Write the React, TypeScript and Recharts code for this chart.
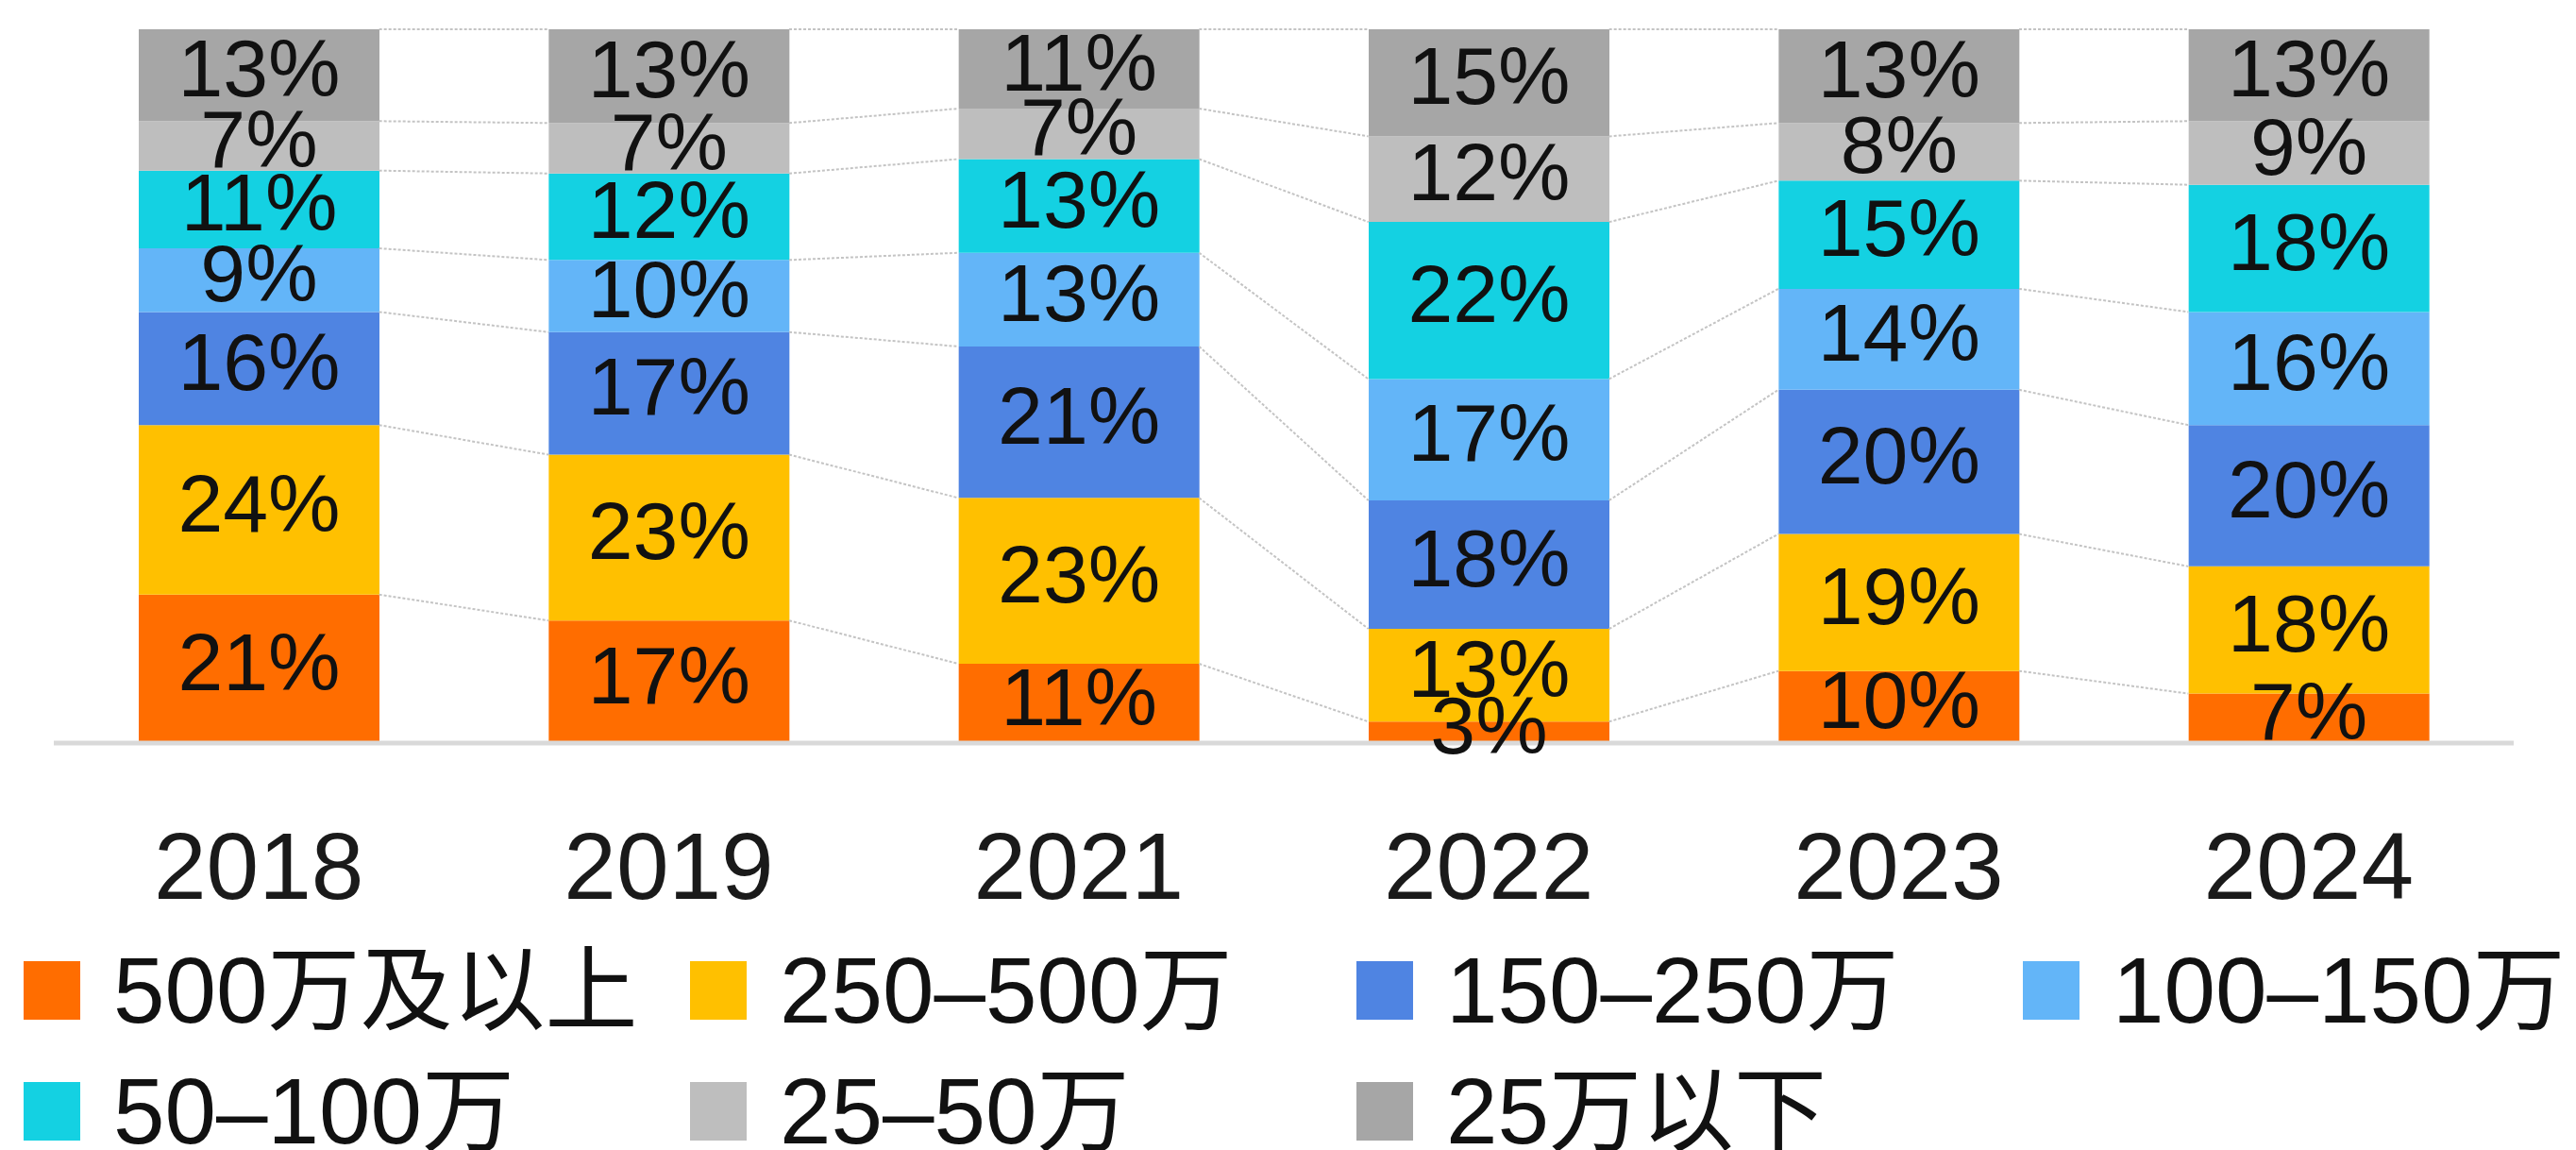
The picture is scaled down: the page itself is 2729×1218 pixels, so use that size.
import { Bar, BarChart, LabelList, Legend, ReferenceLine, XAxis, YAxis } from "recharts";

// share of sales by price band, per year (labels as printed, rows normalised by the chart)
const years = ["2018", "2019", "2021", "2022", "2023", "2024"];
const above500 = [21, 17, 11, 3, 10, 7];
const from250to500 = [24, 23, 23, 13, 19, 18];
const from150to250 = [16, 17, 21, 18, 20, 20];
const from100to150 = [9, 10, 13, 17, 14, 16];
const from50to100 = [11, 12, 13, 22, 15, 18];
const from25to50 = [7, 7, 7, 12, 8, 9];
const below25 = [13, 13, 11, 15, 13, 13];

const seriesNames = ["500万及以上", "250–500万", "150–250万", "100–150万", "50–100万", "25–50万", "25万以下"];
const seriesColors = ["#FF6D00", "#FFC000", "#4F84E2", "#63B5F8", "#14D1E2", "#BEBEBE", "#A6A6A6"];
const seriesValues = [above500, from250to500, from150to250, from100to150, from50to100, from25to50, below25];

const data = years.map((year, i) => {
  const row: Record<string, number | string> = { idx: i, year };
  seriesValues.forEach((vals, k) => {
    row["s" + k] = vals[i];
  });
  return row;
});

const W = 2729;
const H = 1218;
const margin = { top: 31, right: 66, bottom: 281, left: 57 };
const BAR_SIZE = 255;
const FONT = "'Liberation Sans', 'Noto Sans CJK SC', sans-serif";

// half a bar, in index units, so the connectors start at the bar edges
const bandPx = (W - margin.left - margin.right) / years.length;
const halfBar = BAR_SIZE / 2 / bandPx;

// cumulative share at the top of each segment
const cumShares = years.map((_, i) => {
  const total = seriesValues.reduce((s, vals) => s + vals[i], 0);
  let acc = 0;
  return seriesValues.map((vals) => {
    acc += vals[i];
    return acc / total;
  });
});

const connectors: Array<{ x1: number; y1: number; x2: number; y2: number }> = [];
for (let i = 0; i < years.length - 1; i++) {
  for (let k = 0; k < seriesValues.length; k++) {
    connectors.push({ x1: i + halfBar, y1: cumShares[i][k], x2: i + 1 - halfBar, y2: cumShares[i + 1][k] });
  }
}

function LegendGrid(props: any) {
  const payload = [...(props.payload || [])].sort(
    (a: any, b: any) => seriesNames.indexOf(a.value) - seriesNames.indexOf(b.value)
  );
  return (
    <div
      style={{
        display: "grid",
        gridTemplateColumns: "706px 706px 706px 580px",
        fontFamily: FONT,
        textAlign: "left",
      }}
    >
      {payload.map((entry: any) => (
        <div key={entry.value} style={{ height: 128, display: "flex", alignItems: "center" }}>
          <span style={{ width: 60, height: 62, background: entry.color, marginRight: 35, flex: "none" }} />
          <span style={{ fontSize: 98, color: "#111", whiteSpace: "nowrap", lineHeight: 1 }}>{entry.value}</span>
        </div>
      ))}
    </div>
  );
}

export default function App() {
  return (
    <div style={{ width: W, height: H, background: "#fff" }}>
      <style>{"body{margin:0}"}</style>
      <BarChart width={W} height={H} data={data} margin={margin} stackOffset="expand">
        <XAxis
          dataKey="year"
          height={150}
          tickSize={0}
          tickMargin={94}
          tickLine={false}
          axisLine={{ stroke: "#d9d9d9", strokeWidth: 5 }}
          tick={{ fontSize: 100, fill: "#1a1a1a", fontFamily: FONT }}
        />
        <XAxis
          xAxisId="pos"
          type="number"
          dataKey="idx"
          domain={[-0.5, years.length - 0.5]}
          allowDataOverflow
          hide
        />
        <YAxis hide />
        {connectors.map((c, n) => (
          <ReferenceLine
            key={n}
            xAxisId="pos"
            segment={[
              { x: c.x1, y: c.y1 },
              { x: c.x2, y: c.y2 },
            ]}
            stroke="#c4c4c4"
            strokeWidth={2}
            strokeDasharray="3 2"
          />
        ))}
        {seriesNames.map((name, k) => (
          <Bar
            key={name}
            dataKey={"s" + k}
            name={name}
            stackId="a"
            fill={seriesColors[k]}
            barSize={BAR_SIZE}
            isAnimationActive={false}
          >
            <LabelList
              dataKey={"s" + k}
              position="center"
              formatter={(v: any) => `${v}%`}
              dy={-8}
              style={{ fontSize: 86, fill: "#111", fontFamily: FONT }}
            />
          </Bar>
        ))}
        <Legend
          verticalAlign="middle"
          align="center"
          content={LegendGrid}
          wrapperStyle={{ left: 25, top: 985, width: 2704, height: 256 }}
        />
      </BarChart>
    </div>
  );
}
